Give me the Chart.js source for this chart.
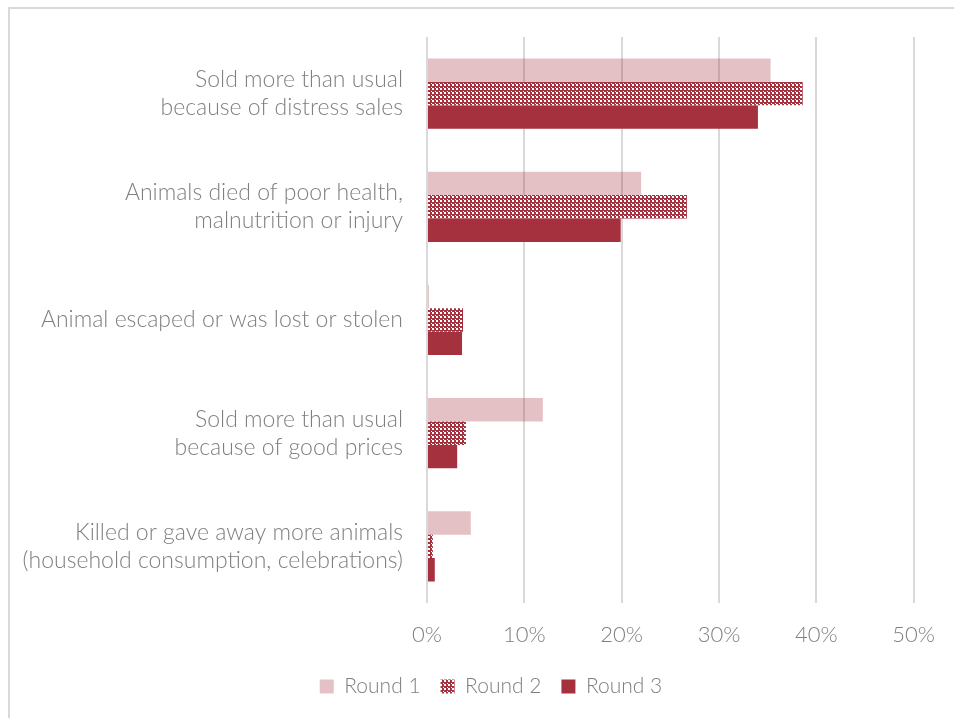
<!DOCTYPE html>
<html>
<head>
<meta charset="utf-8">
<script src="https://cdn.jsdelivr.net/npm/chart.js@4.4.1/dist/chart.umd.min.js"></script>
<style>
  html, body { margin: 0; padding: 0; background: #fff; overflow: hidden; }
  #frame { position: absolute; left: 8px; top: 7px; width: 1000px; height: 800px;
           border-left: 2px solid #d9d9d9; border-top: 2px solid #d9d9d9; }
  #wrap { position: absolute; left: 0; top: 0; width: 954px; height: 718px; }
</style>
</head>
<body>
<div id="frame"></div>
<div id="wrap"><canvas id="livestockChart"></canvas></div>
<script>
const categories = [
  ['Sold more than usual', 'because of distress sales'],
  ['Animals died of poor health,', 'malnutrition or injury'],
  'Animal escaped or was lost or stolen',
  ['Sold more than usual', 'because of good prices'],
  ['Killed or gave away more animals', '(household consumption, celebrations)'],
];
const seriesNames = ['Round 1', 'Round 2', 'Round 3'];
const round1 = [0.353, 0.220, 0.002, 0.119, 0.045];
const round2 = [0.386, 0.267, 0.037, 0.040, 0.006];
const round3 = [0.340, 0.199, 0.036, 0.031, 0.008];
const xTicks = [0, 0.1, 0.2, 0.3, 0.4, 0.5];

const red = '#a5313e';
const textGray = '#7f7f7f';
const family = 'Lato, "Open Sans", sans-serif';

// small checker tile for Round 2
function makePattern(ctx) {
  const tile = document.createElement('canvas');
  tile.width = 8;
  tile.height = 8;
  const t = tile.getContext('2d');
  t.fillStyle = red;
  t.fillRect(0, 0, 8, 8);
  t.fillStyle = '#fff';
  for (let x = 0; x < 8; x += 4) {
    for (let y = 0; y < 8; y += 4) {
      t.fillRect(x, y, 2, 2);
      t.fillRect(x + 3, y + 3, 1, 1);
    }
  }
  return ctx.createPattern(tile, 'repeat');
}

// legend sits a bit right of the canvas centre in the original
const legendShift = {
  id: 'legendShift',
  afterLayout(chart) {
    if (chart.legend) chart.legend.left += 67;
  },
};

const canvas = document.getElementById('livestockChart');
const ctx = canvas.getContext('2d');
const pattern = makePattern(ctx);

new Chart(ctx, {
  type: 'bar',
  data: {
    labels: categories,
    datasets: [
      { label: seriesNames[0], data: round1, backgroundColor: 'rgba(165,49,62,0.3)' },
      { label: seriesNames[1], data: round2, backgroundColor: pattern },
      { label: seriesNames[2], data: round3, backgroundColor: red },
    ],
  },
  plugins: [legendShift],
  options: {
    indexAxis: 'y',
    responsive: true,
    maintainAspectRatio: false,
    animation: false,
    datasets: { bar: { categoryPercentage: 0.62, barPercentage: 1, borderWidth: 0 } },
    layout: { padding: { top: 37, right: 39, bottom: 11, left: 0 } },
    plugins: {
      legend: {
        position: 'bottom',
        labels: {
          boxWidth: 14, boxHeight: 14, padding: 20, color: textGray,
          font: { family: family, size: 21, weight: 300 },
        },
      },
      tooltip: { enabled: false },
    },
    scales: {
      x: {
        min: 0,
        max: 0.5,
        afterBuildTicks: (scale) => { scale.ticks = xTicks.map(v => ({ value: v })); },
        afterFit: (scale) => { scale.height = 53; },
        ticks: {
          color: textGray,
          font: { family: family, size: 22, weight: 300 },
          padding: 19,
          callback: (v) => Math.round(v * 100) + '%',
        },
        grid: { color: '#d9d9d9', lineWidth: 2, drawTicks: false },
        border: { display: false },
      },
      y: {
        afterFit: (scale) => {
          scale.width = 427;
          scale.paddingTop = 0;
          scale.paddingBottom = 0;
        },
        ticks: {
          color: textGray,
          font: { family: family, size: 23, weight: 300, lineHeight: 1.22 },
          padding: 16,
        },
        grid: { display: false },
        border: { display: false },
      },
    },
  },
});
</script>
</body>
</html>
